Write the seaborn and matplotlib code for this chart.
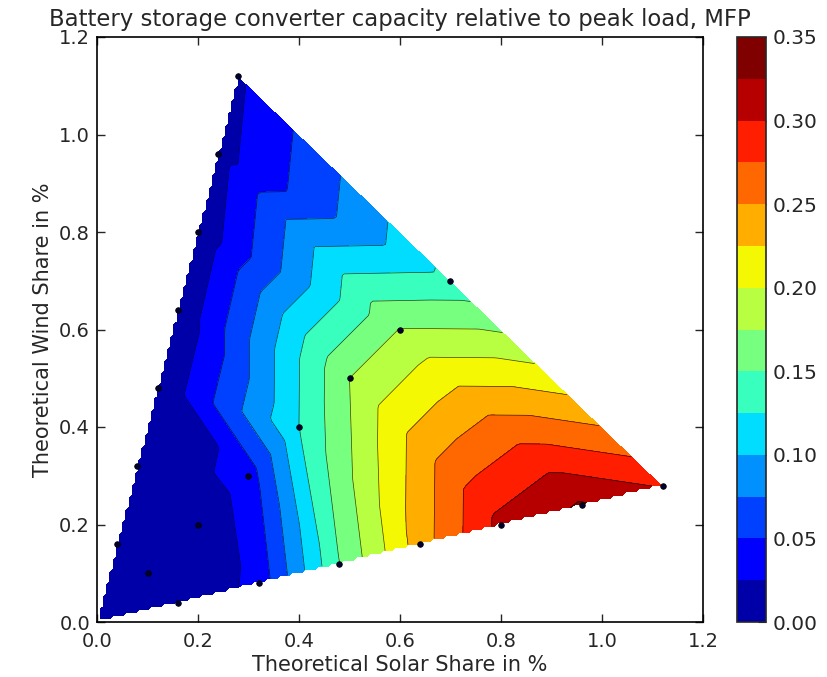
import matplotlib
matplotlib.use('Agg')
import matplotlib.pyplot as plt
import matplotlib.tri as mtri
import seaborn as sns
import numpy as np
import pandas as pd

# total theoretical share (solar + wind) of each case row
total_share = [0.2, 0.4, 0.6, 0.8, 1.0, 1.2, 1.4]
# solar fraction of the three case rays (wind-heavy, balanced, solar-heavy)
solar_fraction = [0.2, 0.5, 0.8]
# converter capacity relative to peak load along each ray
wind_ray = [0.000, 0.001, 0.002, 0.003, 0.005, 0.015, 0.021]
diag_ray = [0.002, 0.006, 0.036, 0.125, 0.175, 0.176, 0.133]
solar_ray = [0.000, 0.033, 0.150, 0.238, 0.308, 0.328, 0.298]
origin_value = 0.0

levels = np.arange(0, 0.35 + 0.001, 0.025)
cbar_ticks = np.arange(0, 0.35 + 0.001, 0.05)

rows = []
for frac, vals in zip(solar_fraction, [wind_ray, diag_ray, solar_ray]):
    for t, v in zip(total_share, vals):
        rows.append({'solar': frac * t, 'wind': (1 - frac) * t, 'value': v})
df = pd.DataFrame(rows)

# origin closes the hull
tri_x = np.append(df['solar'].values, 0.0)
tri_y = np.append(df['wind'].values, 0.0)
tri_z = np.append(df['value'].values, origin_value)

sns.set_style('ticks', {'xtick.direction': 'in', 'ytick.direction': 'in'})
plt.rcParams['font.family'] = ['DejaVu Sans']

fig = plt.figure(figsize=(8.27, 6.77), dpi=100)
ax = fig.add_axes([97 / 827, 55 / 677, 606 / 827, 585 / 677])
cax = fig.add_axes([737 / 827, 55 / 677, 29 / 827, 585 / 677])

# interpolate onto a regular grid, like griddata
triang = mtri.Triangulation(tri_x, tri_y)
interp = mtri.LinearTriInterpolator(triang, tri_z)
gx = np.linspace(0, 1.2, 190)
gy = np.linspace(0, 1.2, 190)
GX, GY = np.meshgrid(gx, gy)
GZ = interp(GX, GY)

cf = ax.contourf(GX, GY, GZ, levels=levels, cmap='jet', vmin=0, vmax=tri_z.max())
ax.contour(GX, GY, GZ, levels=levels, colors='k', linewidths=0.5, alpha=0.75)

sns.scatterplot(data=df, x='solar', y='wind', ax=ax, color='#000033',
                s=16, edgecolor='k', linewidth=0.6, legend=False, zorder=5)

ax.set_xlim(0, 1.2)
ax.set_ylim(0, 1.2)
ax.set_xticks(np.arange(0, 1.21, 0.2))
ax.set_yticks(np.arange(0, 1.21, 0.2))
ax.tick_params(axis='both', which='both', direction='in', top=True, right=True,
               labelsize=14, length=6, width=1)
ax.tick_params(axis='x', pad=7)
ax.tick_params(axis='y', pad=5)
for sp in ax.spines.values():
    sp.set_visible(True)
    sp.set_linewidth(1.2)
    sp.set_color('k')
ax.set_xlabel('Theoretical Solar Share in %', fontsize=15, labelpad=3)
ax.set_ylabel('Theoretical Wind Share in %', fontsize=15, labelpad=4)
ax.set_title('Battery storage converter capacity relative to peak load, MFP',
             fontsize=16.4, pad=8)

cb = fig.colorbar(cf, cax=cax, ticks=cbar_ticks, format='%.2f')
cb.ax.tick_params(labelsize=14.5, direction='in', length=6, pad=5)
cb.outline.set_linewidth(1.2)

plt.savefig('out.png', dpi=100)
